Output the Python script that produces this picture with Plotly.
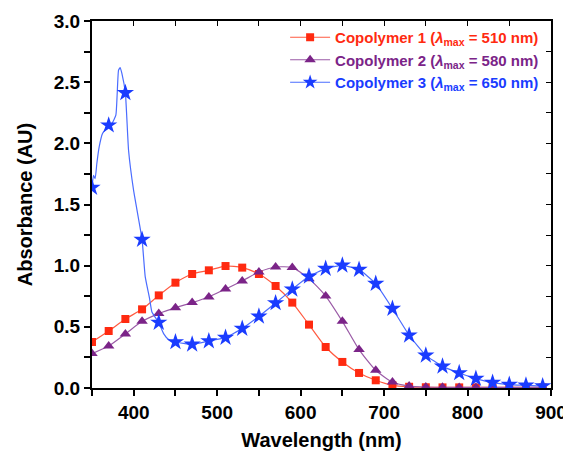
import plotly.graph_objects as go

# ---- data ----
wl_markers = [350, 370, 390, 410, 430, 450, 470, 490, 510, 530, 550, 570, 590, 610, 630,
              650, 670, 690, 710, 730, 750, 770, 790, 810, 830, 850, 870, 890]

copoly1 = [0.376, 0.466, 0.564, 0.643, 0.757, 0.861, 0.932, 0.962, 0.997, 0.984, 0.932, 0.834,
           0.698, 0.518, 0.335, 0.213, 0.123, 0.063, 0.022, 0.010, 0.006, 0.005, 0.005, 0.005,
           0.005, 0.005, 0.005, 0.005]

copoly2 = [0.281, 0.343, 0.442, 0.545, 0.608, 0.657, 0.698, 0.744, 0.809, 0.875, 0.948, 0.989,
           0.984, 0.894, 0.752, 0.545, 0.314, 0.145, 0.049, 0.016, 0.008, 0.006, 0.005, 0.005,
           0.005, 0.005, 0.005, 0.005]

copoly3 = [1.638, 2.148, 2.412, 1.213, 0.535, 0.376, 0.357, 0.384, 0.412, 0.486, 0.586, 0.695,
           0.807, 0.913, 0.976, 1.003, 0.968, 0.853, 0.649, 0.431, 0.267, 0.177, 0.123, 0.077,
           0.044, 0.028, 0.022, 0.016]

# extra points of the densely sampled copolymer 3 spectrum near its 380 nm band
copoly3_peak_wl = [351.8, 353.8, 355.8, 358.6, 362.6, 373.8, 378.6, 380.2, 381.8, 383.8, 385.8,
                   393.8, 399.8, 413.8, 419.0, 421.8, 435.8, 441.8]
copoly3_peak_abs = [1.739, 1.712, 1.835, 1.971, 2.080, 2.162, 2.230, 2.407, 2.598, 2.620, 2.571,
                    1.944, 1.617, 0.908, 0.731, 0.621, 0.445, 0.396]

names = ["Copolymer 1 (<i>λ</i><sub>max</sub> = 510 nm)",
         "Copolymer 2 (<i>λ</i><sub>max</sub> = 580 nm)",
         "Copolymer 3 (<i>λ</i><sub>max</sub> = 650 nm)"]

x_ticks = [400, 500, 600, 700, 800, 900]
y_ticks = [0.0, 0.5, 1.0, 1.5, 2.0, 2.5, 3.0]

RED, RED_L = "#ff2a10", "#ff5a40"
PUR, PUR_L = "#7b2488", "#9a5aa6"
BLU, BLU_L = "#1a3cff", "#4a6cff"

FONT = "Liberation Sans, Arial, sans-serif"


def legend_name(text, color):
    return '<span style="color:%s"><b>%s</b></span>' % (color, text)


fig = go.Figure()

# copolymer 1
fig.add_trace(go.Scatter(x=wl_markers, y=copoly1, mode="lines+markers",
                         name=legend_name(names[0], RED),
                         line=dict(color=RED_L, width=1.2, shape="spline", smoothing=0.6),
                         marker=dict(symbol="square", size=8, color=RED)))
# copolymer 2
fig.add_trace(go.Scatter(x=wl_markers, y=copoly2, mode="lines+markers",
                         name=legend_name(names[1], PUR),
                         line=dict(color=PUR_L, width=1.2, shape="spline", smoothing=0.6),
                         marker=dict(symbol="triangle-up", size=10, color=PUR)))

# copolymer 3: dense line + star markers
pts = sorted(list(zip(wl_markers, copoly3)) + list(zip(copoly3_peak_wl, copoly3_peak_abs)))
fig.add_trace(go.Scatter(x=[p[0] for p in pts], y=[p[1] for p in pts], mode="lines",
                         line=dict(color=BLU_L, width=1.2, shape="spline", smoothing=0.4),
                         showlegend=False, hoverinfo="skip"))
fig.add_trace(go.Scatter(x=wl_markers, y=copoly3, mode="markers", showlegend=False,
                         marker=dict(symbol="star", size=13, color=BLU)))
# legend entry for copolymer 3
fig.add_trace(go.Scatter(x=[None], y=[None], mode="lines+markers",
                         name=legend_name(names[2], BLU),
                         line=dict(color=BLU_L, width=1.2),
                         marker=dict(symbol="star", size=11, color=BLU)))

# helper trace for the mirrored top/right axes
fig.add_trace(go.Scatter(x=[None], y=[None], xaxis="x2", yaxis="y2",
                         showlegend=False, hoverinfo="skip"))

axis_common = dict(showline=True, linecolor="black", linewidth=2, showgrid=False,
                   zeroline=False, automargin=False)

# the page body adds an 8 px offset, so the figure is 563x443 and shifted accordingly
fig.update_layout(
    width=563, height=443,
    margin=dict(l=84, r=20, t=13, b=63),
    paper_bgcolor="white", plot_bgcolor="white",
    font=dict(family=FONT, color="black"),
    showlegend=True,
    legend=dict(x=0.985, y=1.0, xanchor="right", yanchor="top",
                bgcolor="rgba(0,0,0,0)", borderwidth=0,
                font=dict(size=15, family=FONT), tracegroupgap=0, itemwidth=40),
    xaxis=dict(range=[350, 900], tickvals=x_ticks,
               ticktext=["<b>%d</b>" % v for v in x_ticks],
               ticks="outside", ticklen=6, tickwidth=1.5, tickcolor="black",
               minor=dict(dtick=50, tick0=350, ticks="outside", ticklen=6, tickwidth=1.5,
                          tickcolor="black"),
               tickfont=dict(size=19, family=FONT, color="black"),
               title=dict(text="<b>Wavelength (nm)</b>", font=dict(size=20, family=FONT),
                          standoff=12),
               **axis_common),
    yaxis=dict(range=[0, 3.0], tickvals=y_ticks,
               ticktext=["<b>%.1f</b>" % v for v in y_ticks],
               ticks="outside", ticklen=6, tickwidth=1.5, tickcolor="black",
               minor=dict(dtick=0.25, tick0=0, ticks="outside", ticklen=6, tickwidth=1.5,
                          tickcolor="black"),
               tickfont=dict(size=19, family=FONT, color="black"),
               title=dict(text="<b>Absorbance (AU)</b>", font=dict(size=20, family=FONT),
                          standoff=16),
               **axis_common),
    xaxis2=dict(overlaying="x", side="top", range=[350, 900], anchor="y2",
                tickvals=x_ticks, showticklabels=False, ticks="inside", ticklen=5,
                tickwidth=1.2, tickcolor="black",
                minor=dict(dtick=50, tick0=350, ticks="inside", ticklen=5, tickwidth=1.2,
                           tickcolor="black"),
                **axis_common),
    yaxis2=dict(overlaying="y", side="right", range=[0, 3.0], anchor="x2",
                tickvals=y_ticks, showticklabels=False, ticks="inside", ticklen=5,
                tickwidth=1.2, tickcolor="black",
                minor=dict(dtick=0.25, tick0=0, ticks="inside", ticklen=5, tickwidth=1.2,
                           tickcolor="black"),
                **axis_common),
)

fig.write_html("out.html")
